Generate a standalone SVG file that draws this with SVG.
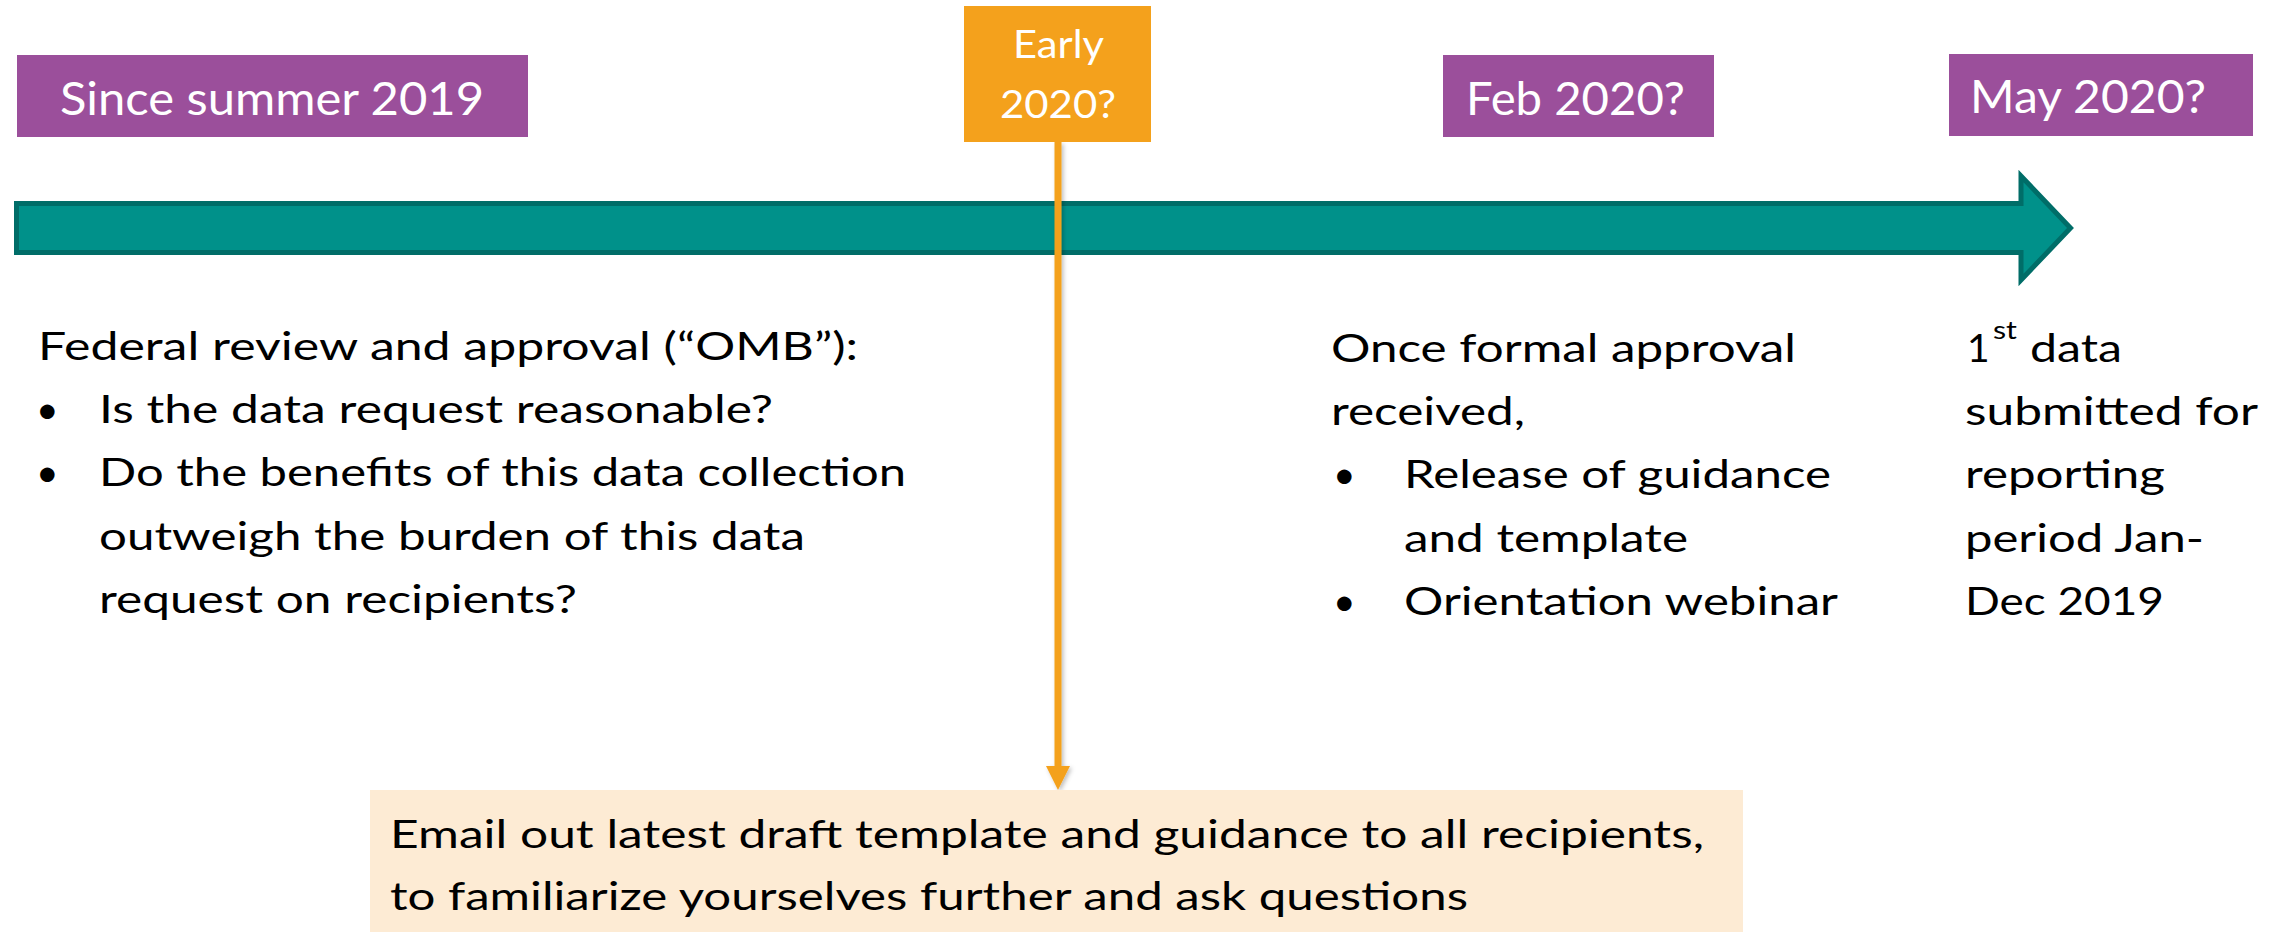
<svg xmlns="http://www.w3.org/2000/svg" width="2288" height="932" viewBox="0 0 2288 932">
<style>
.lbl{font-family:Lato,"Open Sans","Liberation Sans",sans-serif;fill:#ffffff;font-size:46px}
.lbl2{font-family:Lato,"Open Sans","Liberation Sans",sans-serif;fill:#ffffff;font-size:38px}
.body{font-family:Lato,"Open Sans","Liberation Sans",sans-serif;fill:#000000;font-size:39px}
.sup{font-family:Lato,"Open Sans","Liberation Sans",sans-serif;fill:#000000;font-size:25px}
.purple{fill:#9B4F9B}
.orange{fill:#F4A11C}
</style>
<defs>
<filter id="shadow" x="-50%" y="-5%" width="200%" height="110%">
<feDropShadow dx="2" dy="2" stdDeviation="2" flood-color="#000000" flood-opacity="0.25"/>
</filter>
</defs>
<rect width="2288" height="932" fill="#ffffff"/>

<g id="timeline">
<path d="M16.5,203.5 L2021,203.5 L2021,176 L2070.5,228 L2021,280 L2021,252.5 L16.5,252.5 Z" fill="#00918A" stroke="#006D68" stroke-width="5" stroke-linejoin="miter"/>
</g>

<g id="node-since">
<rect class="purple" x="17" y="55" width="511" height="82"/>
<text class="lbl" x="60" y="115" textLength="424" lengthAdjust="spacingAndGlyphs">Since summer 2019</text>
</g>

<g id="node-feb">
<rect class="purple" x="1443" y="55" width="271" height="82"/>
<text class="lbl" x="1466" y="115" textLength="219" lengthAdjust="spacingAndGlyphs">Feb 2020?</text>
</g>

<g id="node-may">
<rect class="purple" x="1949" y="54" width="304" height="82"/>
<text class="lbl" x="1970" y="113" textLength="236" lengthAdjust="spacingAndGlyphs">May 2020?</text>
</g>

<g id="connectors" filter="url(#shadow)">
<line x1="1058" y1="142" x2="1058" y2="768" stroke="#F4A11C" stroke-width="7"/>
<polygon points="1046,766 1070,766 1058,790" fill="#F4A11C"/>
</g>

<g id="node-early">
<rect class="orange" x="964" y="6" width="187" height="136"/>
<text class="lbl2" x="1013" y="58" textLength="91" lengthAdjust="spacingAndGlyphs">Early</text>
<text class="lbl2" x="1000" y="118" textLength="116" lengthAdjust="spacingAndGlyphs">2020?</text>
</g>

<g id="node-federal">
<text class="body" x="38" y="360" textLength="820" lengthAdjust="spacingAndGlyphs">Federal review and approval (“OMB”):</text>
<text class="body" x="36" y="423">•</text>
<text class="body" x="99" y="423" textLength="674" lengthAdjust="spacingAndGlyphs">Is the data request reasonable?</text>
<text class="body" x="36" y="486">•</text>
<text class="body" x="99" y="486" textLength="807" lengthAdjust="spacingAndGlyphs">Do the benefits of this data collection</text>
<text class="body" x="99" y="550" textLength="706" lengthAdjust="spacingAndGlyphs">outweigh the burden of this data</text>
<text class="body" x="99" y="613" textLength="478" lengthAdjust="spacingAndGlyphs">request on recipients?</text>
</g>

<g id="node-approval">
<text class="body" x="1331" y="362" textLength="465" lengthAdjust="spacingAndGlyphs">Once formal approval</text>
<text class="body" x="1331" y="425" textLength="194" lengthAdjust="spacingAndGlyphs">received,</text>
<text class="body" x="1333" y="488">•</text>
<text class="body" x="1404" y="488" textLength="427" lengthAdjust="spacingAndGlyphs">Release of guidance</text>
<text class="body" x="1404" y="552" textLength="284" lengthAdjust="spacingAndGlyphs">and template</text>
<text class="body" x="1333" y="615">•</text>
<text class="body" x="1404" y="615" textLength="434" lengthAdjust="spacingAndGlyphs">Orientation webinar</text>
</g>

<g id="node-first-data">
<text class="body" x="1967" y="362">1</text>
<text class="sup" x="1993" y="339" textLength="24" lengthAdjust="spacingAndGlyphs">st</text>
<text class="body" x="2030" y="362" textLength="92" lengthAdjust="spacingAndGlyphs">data</text>
<text class="body" x="1965" y="425" textLength="293" lengthAdjust="spacingAndGlyphs">submitted for</text>
<text class="body" x="1965" y="488" textLength="200" lengthAdjust="spacingAndGlyphs">reporting</text>
<text class="body" x="1965" y="552" textLength="239" lengthAdjust="spacingAndGlyphs">period Jan-</text>
<text class="body" x="1965" y="615" textLength="199" lengthAdjust="spacingAndGlyphs">Dec 2019</text>
</g>

<g id="node-email">
<rect x="370" y="790" width="1373" height="142" fill="#FDEBD4"/>
<text class="body" x="390" y="848" textLength="1314" lengthAdjust="spacingAndGlyphs">Email out latest draft template and guidance to all recipients,</text>
<text class="body" x="390" y="910" textLength="1078" lengthAdjust="spacingAndGlyphs">to familiarize yourselves further and ask questions</text>
</g>
</svg>
